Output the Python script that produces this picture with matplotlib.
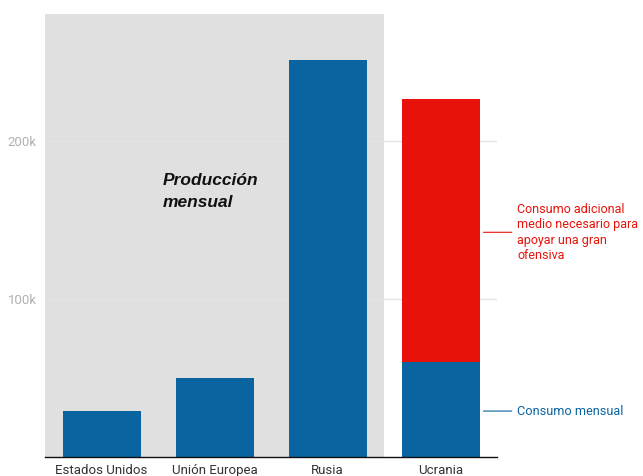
import matplotlib.pyplot as plt

plt.rcParams['font.family'] = ['Roboto', 'DejaVu Sans']

# Proyectiles de artillería por mes
paises = ['Estados Unidos', 'Unión Europea', 'Rusia', 'Ucrania']
produccion = [29000, 50000, 251000, 0]
consumo_mensual = [0, 0, 0, 60000]
consumo_adicional = [0, 0, 0, 166000]
ticks = [100000, 200000]
tick_labels = ['100k', '200k']

azul = '#0a64a0'
rojo = '#e8120a'

fig = plt.figure(figsize=(6.43, 4.76), dpi=100)
ax = fig.add_axes([0.07, 0.04, 0.703, 0.9307])

x = range(len(paises))
ax.axvspan(-0.5, 2.5, color='#e0e0e0', zorder=0, lw=0)
for t in ticks:
    ax.axhline(t, color='#e4e4e4', lw=1, zorder=1)

ax.bar(x[:3], produccion[:3], width=0.69, color=azul, zorder=2)
ax.bar(x[3], consumo_mensual[3], width=0.69, color=azul, zorder=2)
ax.bar(x[3], consumo_adicional[3], bottom=consumo_mensual[3],
       width=0.69, color=rojo, zorder=2)

ax.set_xlim(-0.5, 3.5)
ax.set_ylim(0, 280000)
ax.set_xticks(list(x))
ax.set_xticklabels(paises, fontsize=9.5, color='#333333')
ax.set_yticks(ticks)
ax.set_yticklabels(tick_labels, fontsize=9.5, color='#b0b0b0')
ax.tick_params(length=0, pad=6)
ax.tick_params(axis='x', pad=5)
for s in ['left', 'right', 'top']:
    ax.spines[s].set_visible(False)
ax.spines['bottom'].set_color('#111111')
ax.spines['bottom'].set_linewidth(1)

ax.text(0.54, 168000, 'Producción\nmensual', fontsize=12.5, fontweight='bold',
        fontstyle='italic', color='#111111', va='center', ha='left',
        linespacing=1.6, family=['Liberation Sans', 'DejaVu Sans'])

# Anotaciones a la derecha de la barra de Ucrania
y_rojo = 142000
ax.annotate('Consumo adicional\nmedio necesario para\napoyar una gran\nofensiva',
            xy=(3.38, y_rojo), xytext=(3.68, y_rojo), xycoords='data',
            textcoords='data', fontsize=9, color=rojo, va='center',
            ha='left', annotation_clip=False, linespacing=1.25,
            arrowprops=dict(arrowstyle='-', color=rojo, lw=0.8,
                            shrinkA=2, shrinkB=0))
y_azul = consumo_mensual[3] * 0.5 - 1000
ax.annotate('Consumo mensual', xy=(3.38, y_azul), xytext=(3.68, y_azul),
            fontsize=9.2, color=azul, va='center', ha='left',
            annotation_clip=False,
            arrowprops=dict(arrowstyle='-', color=azul, lw=0.8,
                            shrinkA=2, shrinkB=0))

fig.savefig('out.png', dpi=100)
